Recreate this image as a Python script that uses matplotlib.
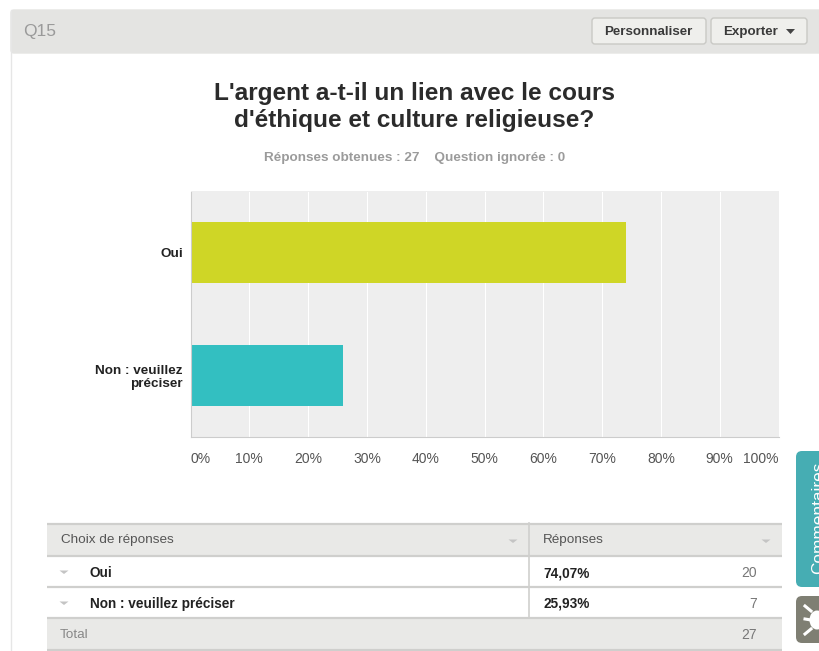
import matplotlib
matplotlib.use("Agg")
import matplotlib.pyplot as plt
from matplotlib.patches import Rectangle, FancyBboxPatch, Ellipse, Polygon

plt.rcParams['font.family'] = ['Liberation Sans', 'DejaVu Sans']

W, H = 819, 651

choices = ["Oui", "Non : veuillez\npréciser"]
percent = [74.07, 25.93]
ticks = [0, 10, 20, 30, 40, 50, 60, 70, 80, 90, 100]
bar_colors = ["#cfd626", "#33bfc1"]

rows = ["Oui", "Non : veuillez préciser"]
row_pct = ["74,07%", "25,93%"]
row_count = ["20", "7"]
total = "27"

fig = plt.figure(figsize=(W / 100, H / 100), dpi=100, facecolor="white")

# page chrome drawn in pixel coordinates
bg = fig.add_axes([0, 0, 1, 1])
bg.set_xlim(0, W)
bg.set_ylim(H, 0)
bg.axis("off")

bg.plot([10.5, 10.5], [10, H], color="#e6e6e6", lw=1)
bg.add_patch(FancyBboxPatch((11, 10), W, 43, boxstyle="round,pad=0,rounding_size=3",
                            fc="#e4e4e2", ec="#e4e4e2", lw=1))
bg.text(23, 31.5, "Q15", fontsize=12.5, color="#9a9a9a", va="center")


def button(x0, x1, label):
    bg.add_patch(FancyBboxPatch((x0, 18), x1 - x0, 26, boxstyle="round,pad=0,rounding_size=3",
                                fc="#efefec", ec="#c9c9c5", lw=1))
    bg.text(x0 + 12.5, 32, label, fontsize=9.6, color="#3a3a3a", va="center", weight="bold")


button(592, 706, "Personnaliser")
button(711, 807, "Exporter")
bg.add_patch(Polygon([[786, 29], [795, 29], [790.5, 34]], fc="#444444", ec="none"))

bg.text(414.5, 107, "L'argent a-t-il un lien avec le cours\nd'éthique et culture religieuse?",
        fontsize=17.6, weight="bold", color="#2b2b2b", ha="center", va="center", linespacing=1.2)
bg.text(414.5, 158, "Réponses obtenues : 27    Question ignorée : 0",
        fontsize=9.7, weight="bold", color="#9b9b9b", ha="center", va="center")

# table
x0, x1, xc = 47, 782, 529
bg.add_patch(Rectangle((x0, 523), x1 - x0, 33, fc="#e9e9e7", ec="none"))
bg.add_patch(Rectangle((x0, 618), x1 - x0, 33, fc="#e9e9e7", ec="none"))
for y in [523.5, 556, 587, 618, 650]:
    bg.plot([x0, x1], [y, y], color="#cfcfcd", lw=1.6, solid_capstyle="butt")
bg.plot([xc, xc], [523, 618], color="#cfcfcd", lw=1.2)
bg.text(61, 540.5, "Choix de réponses", fontsize=9.7, color="#555555", va="center")
bg.text(543, 540.5, "Réponses", fontsize=9.7, color="#555555", va="center")
for tx, ty in [(513, 541), (766, 541), (64, 572), (64, 603)]:
    bg.add_patch(Polygon([[tx - 4.5, ty - 1.5], [tx + 4.5, ty - 1.5], [tx, ty + 2]], fc="#c4c4c4", ec="none"))
for y, name, pct, n in zip([573, 604], rows, row_pct, row_count):
    bg.text(90, y, name, fontsize=9.8, weight="bold", color="#222222", va="center")
    bg.text(543, y, pct, fontsize=9.8, weight="bold", color="#222222", va="center")
    bg.text(757, y, n, fontsize=10, color="#777777", va="center", ha="right")
bg.text(60, 635, "Total", fontsize=9.7, color="#888888", va="center")
bg.text(757, 635, total, fontsize=10, color="#777777", va="center", ha="right")

# side tabs
bg.add_patch(FancyBboxPatch((796, 451), 40, 136, boxstyle="round,pad=0,rounding_size=6",
                            fc="#46adb3", ec="none"))
bg.text(819, 574, "Commentaires", fontsize=12.4, color="white", rotation=90,
        ha="center", va="bottom", clip_on=True)
bg.add_patch(FancyBboxPatch((796, 596), 40, 47, boxstyle="round,pad=0,rounding_size=6",
                            fc="#7f7f73", ec="none"))
bg.add_patch(Ellipse((817, 620), 15, 19, fc="white", ec="none"))
for ya, yb in [(611, 606), (620, 619), (629, 634)]:
    bg.plot([811, 805], [ya, yb], color="white", lw=2.2)

# the bar chart itself
ax = fig.add_axes([190.5 / W, 1 - 436.5 / H, 588 / W, 245 / H], facecolor="#eeeeee")
ax.barh(choices, percent, height=0.5, color=bar_colors, zorder=3)
ax.set_xlim(0, 100)
ax.set_ylim(1.5, -0.5)
ax.set_xticks(ticks)
ax.set_xticklabels([str(t) + "%" for t in ticks], fontsize=10, color="#555555")
ax.get_xticklabels()[0].set_ha("left")
ax.get_xticklabels()[-1].set_ha("right")
ax.tick_params(axis="x", length=0, pad=11)
ax.tick_params(axis="y", length=0, pad=5.5)
for lab in ax.get_yticklabels():
    lab.set_fontsize(9.7)
    lab.set_fontweight("bold")
    lab.set_color("#222222")
    lab.set_linespacing(1.15)
ax.grid(axis="x", color="white", lw=0.8, zorder=1)
for s in ["top", "right"]:
    ax.spines[s].set_visible(False)
for s in ["left", "bottom"]:
    ax.spines[s].set_color("#cccccc")
    ax.spines[s].set_zorder(4)

fig.savefig("out.png", dpi=100)
